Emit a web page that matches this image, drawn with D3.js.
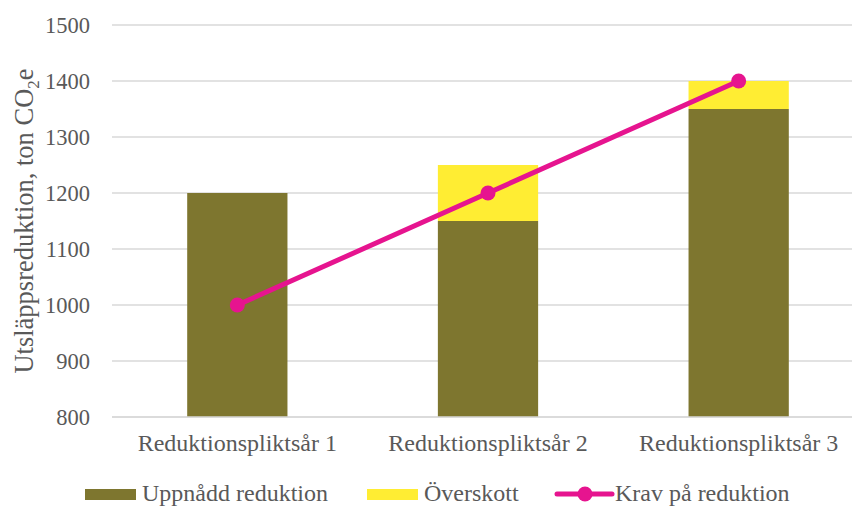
<!DOCTYPE html>
<html>
<head>
<meta charset="utf-8">
<script src="https://cdn.jsdelivr.net/npm/d3@7"></script>
<style>
  html, body { margin: 0; padding: 0; background: #fff; }
  svg { display: block; font-family: "Liberation Serif", "Times New Roman", serif; }
</style>
</head>
<body>
<svg id="chart" width="852" height="506"></svg>
<script>
// Reduction per obligation year, tonnes CO2e
const categories = ["Reduktionspliktsår 1", "Reduktionspliktsår 2", "Reduktionspliktsår 3"];
const achieved = [1200, 1150, 1350];   // Uppnådd reduktion
const surplus = [0, 100, 50];          // Överskott
const required = [1000, 1200, 1400];   // Krav på reduktion
const yTicks = [800, 900, 1000, 1100, 1200, 1300, 1400, 1500];

const colors = { achieved: "#7e762f", surplus: "#ffed33", required: "#e6148f" };
const textColor = "#595959";
const serif = "'Liberation Serif', 'Times New Roman', serif";

const svg = d3.select("#chart");
const width = 852, height = 506;
const plotLeft = 112, plotRight = 864, plotTop = 25, plotBottom = 417;

const x = d3.scaleBand().domain(categories)
  .range([plotLeft, plotRight])
  .paddingInner(0.6).paddingOuter(0.3);
const y = d3.scaleLinear().domain([800, 1500]).range([plotBottom, plotTop]);

// Gridlines
svg.append("g")
  .selectAll("line").data(yTicks).join("line")
  .attr("x1", plotLeft).attr("x2", plotRight)
  .attr("y1", d => y(d)).attr("y2", d => y(d))
  .attr("stroke", "#d9d9d9").attr("stroke-width", 1.3);

// Y axis labels
const yAxis = svg.append("g")
  .attr("transform", `translate(${plotLeft},0)`)
  .call(d3.axisLeft(y).tickValues(yTicks).tickFormat(d3.format("d")).tickSize(0).tickPadding(22));
yAxis.select(".domain").remove();
yAxis.selectAll("text").attr("fill", textColor)
  .style("font-family", serif).style("font-size", "22.5px");

// Stacked bars
const stackData = categories.map((c, i) => ({ cat: c, achieved: achieved[i], surplus: surplus[i] }));
const series = d3.stack().keys(["achieved", "surplus"])(stackData);
svg.append("g").selectAll("g").data(series).join("g")
  .attr("fill", d => colors[d.key])
  .selectAll("rect").data(d => d).join("rect")
  .attr("x", d => x(d.data.cat))
  .attr("width", x.bandwidth())
  .attr("y", d => y(Math.max(800, d[1])))
  .attr("height", d => Math.max(0, y(Math.max(800, d[0])) - y(Math.max(800, d[1]))));

// X axis baseline
svg.append("line")
  .attr("x1", plotLeft).attr("x2", plotRight)
  .attr("y1", y(800)).attr("y2", y(800))
  .attr("stroke", "#d9d9d9").attr("stroke-width", 1.3);

// X axis labels
const xAxis = svg.append("g")
  .attr("transform", `translate(0,${y(800)})`)
  .call(d3.axisBottom(x).tickSize(0).tickPadding(17));
xAxis.select(".domain").remove();
xAxis.selectAll("text").attr("fill", textColor)
  .style("font-family", serif).style("font-size", "24px");

// Requirement line with markers
const cx = i => x(categories[i]) + x.bandwidth() / 2;
const line = d3.line().x((d, i) => cx(i)).y(d => y(d));
svg.append("path").datum(required)
  .attr("d", line).attr("fill", "none")
  .attr("stroke", colors.required).attr("stroke-width", 5)
  .attr("stroke-linejoin", "round");
svg.append("g").selectAll("circle").data(required).join("circle")
  .attr("cx", (d, i) => cx(i)).attr("cy", d => y(d))
  .attr("r", 7.5).attr("fill", colors.required);

// Y axis title with subscript
const title = svg.append("text")
  .attr("transform", `translate(33,${(y(800) + y(1500)) / 2}) rotate(-90)`)
  .attr("text-anchor", "middle")
  .attr("fill", textColor).style("font-size", "26.5px");
title.append("tspan").text("Utsläppsreduktion, ton CO");
title.append("tspan").attr("dy", 6).style("font-size", "17px").text("2");
title.append("tspan").attr("dy", -6).text("e");

// Legend
const legendY = 494;
const legend = svg.append("g");
const items = [
  { label: "Uppnådd reduktion", type: "rect", color: colors.achieved, x: 85 },
  { label: "Överskott", type: "rect", color: colors.surplus, x: 367 },
  { label: "Krav på reduktion", type: "line", color: colors.required, x: 557 }
];
items.forEach(it => {
  const g = legend.append("g");
  if (it.type === "rect") {
    g.append("rect").attr("x", it.x).attr("y", legendY - 5).attr("width", 51).attr("height", 11)
      .attr("fill", it.color);
  } else {
    g.append("line").attr("x1", it.x).attr("x2", it.x + 55)
      .attr("y1", legendY).attr("y2", legendY)
      .attr("stroke", it.color).attr("stroke-width", 5).attr("stroke-linecap", "round");
    g.append("circle").attr("cx", it.x + 28).attr("cy", legendY).attr("r", 7.5).attr("fill", it.color);
  }
  g.append("text").attr("x", it.x + (it.type === "rect" ? 57 : 58)).attr("y", legendY + 7)
    .attr("fill", textColor).style("font-size", "24px").text(it.label);
});
</script>
</body>
</html>
